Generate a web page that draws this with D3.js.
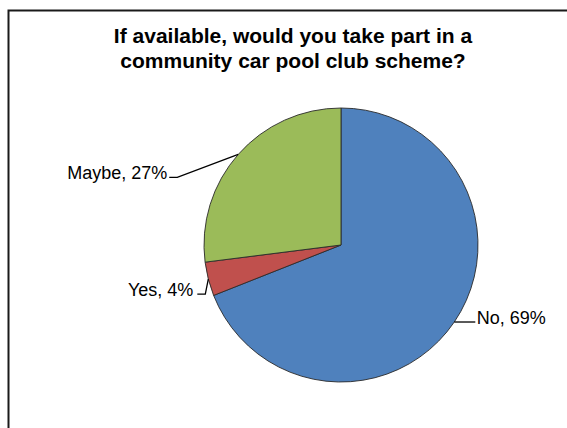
<!DOCTYPE html>
<html>
<head>
<meta charset="utf-8">
<script src="https://cdn.jsdelivr.net/npm/d3@7"></script>
<style>
  html, body { margin: 0; padding: 0; background: #fff; }
  svg { display: block; }
  text { font-family: "Liberation Sans", Arial, sans-serif; fill: #000; }
</style>
</head>
<body>
<svg id="chart" width="567" height="428"></svg>
<script>
// Survey answers and their shares (percent)
const categories = ["No", "Yes", "Maybe"];
const values = [69, 4, 27];
const colors = ["#4F81BD", "#C0504D", "#9BBB59"];
const titleLines = ["If available, would you take part in a", "community car pool club scheme?"];

// Leader-line layout per slice: elbow and end offsets from the slice's rim point
const leaderLayout = {
  "No":    { elbow: [21, 0],   end: [21, 0],   anchor: "start", tdx: 1.5 },
  "Yes":   { elbow: [-3, 15],  end: [-11, 15], anchor: "end",   tdx: -4 },
  "Maybe": { elbow: [-61, 23], end: [-69, 23], anchor: "end",   tdx: -2 }
};

const svg = d3.select("#chart");
const W = 567, H = 428;

svg.append("rect").attr("width", W).attr("height", H).attr("fill", "#fff");

// Chart area frame (runs past the right and bottom edges)
svg.append("rect")
  .attr("x", 8.5).attr("y", 10.5)
  .attr("width", W + 20).attr("height", H + 20)
  .attr("fill", "#fff")
  .attr("stroke", "#1a1a1a")
  .attr("stroke-width", 2);

// Title
svg.append("g").selectAll("text")
  .data(titleLines)
  .join("text")
  .attr("x", 293)
  .attr("y", (d, i) => 43 + i * 24.5)
  .attr("text-anchor", "middle")
  .attr("font-size", 21)
  .attr("font-weight", "bold")
  .text(d => d);

// Pie
const cx = 341, cy = 245, r = 137;
const data = categories.map((c, i) => ({ name: c, value: values[i], color: colors[i] }));

const pie = d3.pie().value(d => d.value).sort(null);
const arcs = pie(data);
const arc = d3.arc().innerRadius(0).outerRadius(r);

const g = svg.append("g").attr("transform", `translate(${cx},${cy})`);

g.selectAll("path")
  .data(arcs)
  .join("path")
  .attr("d", arc)
  .attr("fill", d => d.data.color)
  .attr("stroke", "#2a2a2a")
  .attr("stroke-width", 0.9)
  .attr("stroke-linejoin", "round");

// Data labels with leader lines
const fmt = d => `${d.data.name}, ${d.data.value}%`;

arcs.forEach(d => {
  const mid = (d.startAngle + d.endAngle) / 2;
  const px = r * Math.sin(mid), py = -r * Math.cos(mid);
  const L = leaderLayout[d.data.name];
  const ex = px + L.elbow[0], ey = py + L.elbow[1];
  const tx = px + L.end[0], ty = py + L.end[1];

  g.append("polyline")
    .attr("points", [[px, py], [ex, ey], [tx, ty]].map(p => p.join(",")).join(" "))
    .attr("fill", "none")
    .attr("stroke", "#000")
    .attr("stroke-width", 1.3);

  g.append("text")
    .attr("x", tx + L.tdx)
    .attr("y", ty + 1.6)
    .attr("text-anchor", L.anchor)
    .attr("font-size", 18)
    .text(fmt(d));
});
</script>
</body>
</html>
